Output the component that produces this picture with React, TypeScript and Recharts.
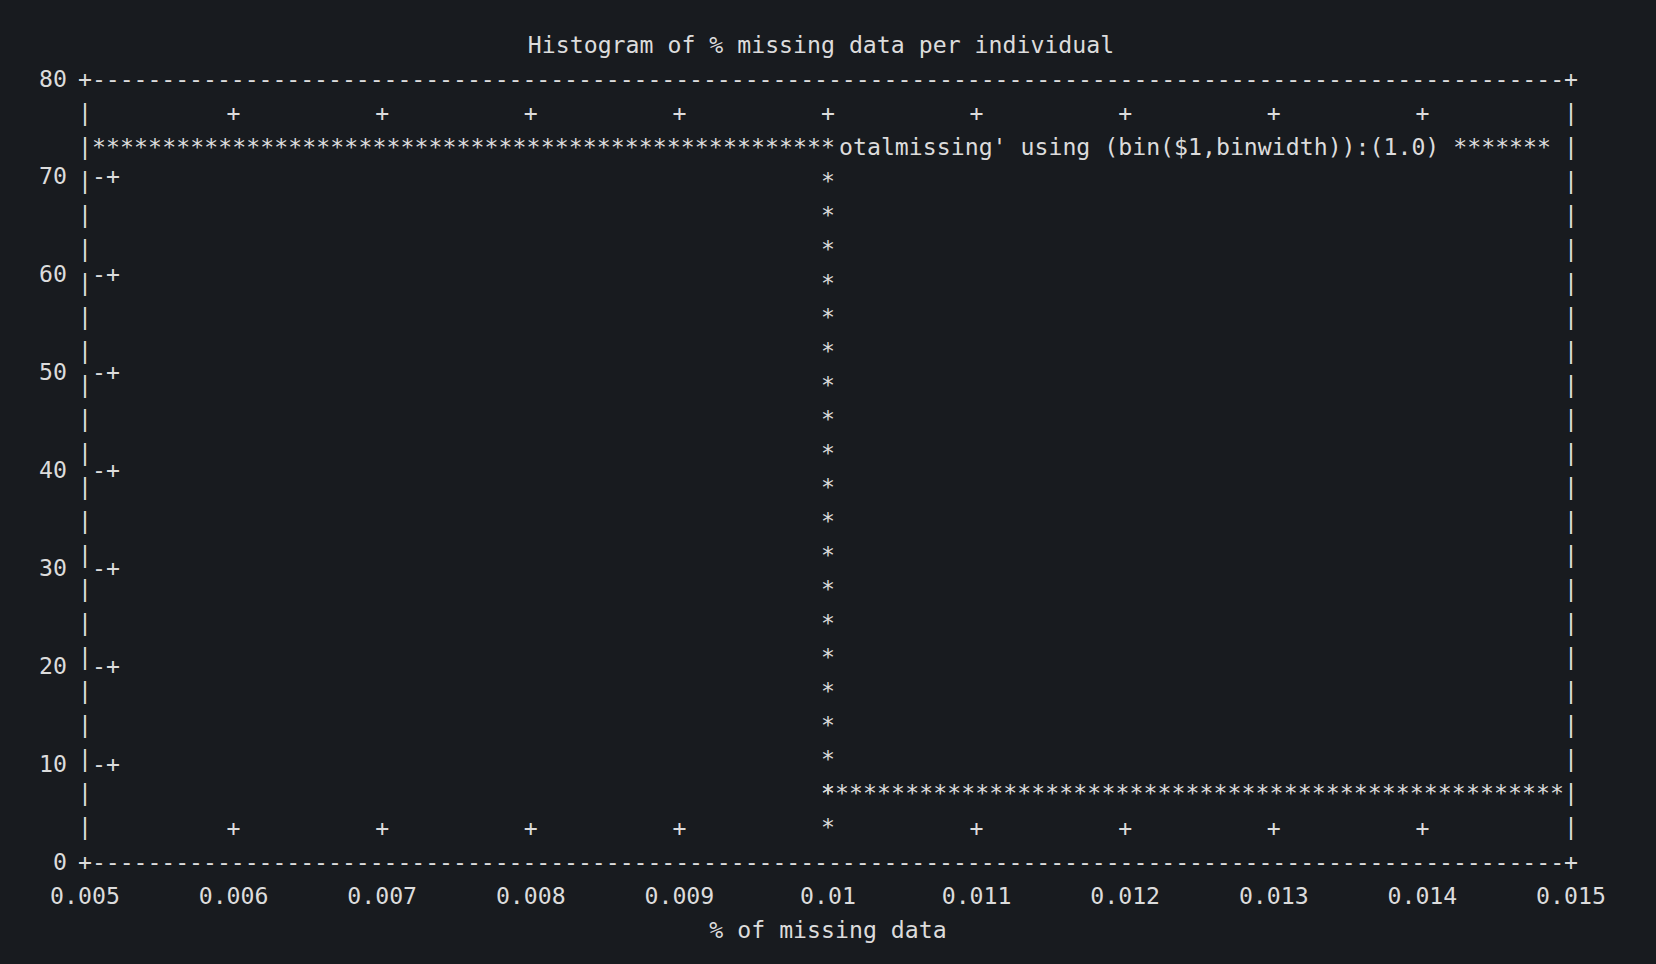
import React from 'react';
import {
  ComposedChart,
  Bar,
  XAxis,
  YAxis,
  ReferenceLine,
  Legend,
} from 'recharts';

const binLabels = ['0.005-0.01', '0.01-0.015'];
const binStarts = [0.005, 0.01];
const binCounts = [73, 7];
const xTicks = [0.005, 0.006, 0.007, 0.008, 0.009, 0.01, 0.011, 0.012, 0.013, 0.014, 0.015];
const xTickLabels = ['0.005', '0.006', '0.007', '0.008', '0.009', '0.01', '0.011', '0.012', '0.013', '0.014', '0.015'];
const yTicks = [0, 10, 20, 30, 40, 50, 60, 70, 80];

const title = 'Histogram of % missing data per individual';
const xLabel = '% of missing data';
const seriesName = "otalmissing' using (bin($1,binwidth)):(1.0)";

const data = binLabels.map((bin, i) => ({ bin, start: binStarts[i], count: binCounts[i] }));

// terminal-ish look
const BG = '#181b1f';
const FG = '#dcdcdc';
const FONT = '"DejaVu Sans Mono", monospace';
const FS = 23.2;
const CW = 13.95; // char width
const ROW = 34; // row height
const BASE = 7.5; // baseline below row centre
const PLOT_TOP = 79;
const PLOT_BOTTOM = 862;
const Y_MIN = yTicks[0];
const Y_MAX = yTicks[yTicks.length - 1];

const ch = (x: number, y: number, c: string, key: string | number, anchor = 'middle') => (
  <text key={key} x={x} y={y + BASE} textAnchor={anchor} fill={FG} fontFamily={FONT} fontSize={FS}>
    {c}
  </text>
);

const HistShape = (props: any) => {
  const { x, y, width, height, index } = props;
  const last = binCounts.length - 1;
  const n = Math.max(1, Math.round(width / CW));
  const step = width / n;
  const out: any[] = [];
  for (let k = index === 0 ? 1 : 0; k <= (index === last ? n - 1 : n); k++) {
    out.push(ch(x + k * step, y, '*', 't' + k));
  }
  if (index < last) {
    for (let yy = y + ROW; yy < y + height - ROW / 2; yy += ROW) {
      out.push(ch(x + width, yy, '*', 'r' + yy));
    }
  }
  return <g>{out}</g>;
};

const HBorder = (p: any) => {
  const a = Math.min(p.x1, p.x2);
  const b = Math.max(p.x1, p.x2);
  const n = Math.round((b - a) / CW);
  const step = (b - a) / n;
  const out: any[] = [];
  for (let k = 0; k <= n; k++) out.push(ch(a + k * step, p.y1, k === 0 || k === n ? '+' : '-', k));
  return <g>{out}</g>;
};

const VBorder = (p: any) => {
  const a = Math.min(p.y1, p.y2);
  const b = Math.max(p.y1, p.y2);
  const n = Math.round((b - a) / ROW);
  const step = (b - a) / n;
  const out: any[] = [];
  for (let k = 1; k < n; k++) out.push(ch(p.x1, a + k * step, '|', k));
  return <g>{out}</g>;
};

const isInnerY = (v: number) => v !== Y_MIN && v !== Y_MAX;
const isInnerX = (v: number) => v !== xTicks[0] && v !== xTicks[xTicks.length - 1];

const LeftTick = ({ x, y, payload }: any) => (
  <g>
    {ch(x - 18, y, String(payload.value), 'l', 'end')}
    {isInnerY(payload.value) && ch(x + CW, y, '-', 'd')}
    {isInnerY(payload.value) && ch(x + 2 * CW, y, '+', 'p')}
  </g>
);

const RightTick = ({ x, y, payload }: any) => (
  <g>
    {isInnerY(payload.value) && ch(x - CW, y, '-', 'd')}
    {isInnerY(payload.value) && ch(x - 2 * CW, y, '+', 'p')}
  </g>
);

// tick marks go one row inside the frame, labels one row below it;
// the bottom mark is hidden where a histogram edge runs down
const BottomTick = ({ x, payload, index }: any) => (
  <g>
    {ch(x, PLOT_BOTTOM + ROW, xTickLabels[index] ?? String(payload.value), 'l')}
    {isInnerX(payload.value) &&
      !binStarts.some((s) => Math.abs(s - payload.value) < 1e-9) &&
      ch(x, PLOT_BOTTOM - ROW, '+', 'p')}
  </g>
);

const TopTick = ({ x, payload }: any) => (
  <g>{isInnerX(payload.value) && ch(x, PLOT_TOP + ROW, '+', 'p')}</g>
);

const KeyContent = ({ payload }: any) => (
  <div
    style={{
      fontFamily: FONT,
      fontSize: FS,
      lineHeight: `${ROW}px`,
      color: FG,
      whiteSpace: 'pre',
    }}
  >
    {`${payload && payload[0] ? payload[0].value : seriesName} *******`}
  </div>
);

export default function App() {
  return (
    <div style={{ position: 'fixed', left: 0, top: 0, width: 1656, height: 964, background: BG }}>
      <ComposedChart
        width={1656}
        height={964}
        data={data}
        barCategoryGap={0}
        margin={{ top: 78, right: 84, bottom: 101, left: 84 }}
      >
        <XAxis xAxisId="cat" dataKey="bin" hide height={0} />
        <XAxis
          xAxisId="val"
          dataKey="start"
          type="number"
          domain={[0.005, 0.015]}
          ticks={xTicks}
          interval={0}
          allowDataOverflow
          height={1}
          tickSize={0}
          tickMargin={0}
          axisLine={false}
          tickLine={false}
          tick={<BottomTick />}
          label={() => ch(828, PLOT_BOTTOM + 2 * ROW, xLabel, 'xl')}
        />
        <XAxis
          xAxisId="top"
          dataKey="start"
          orientation="top"
          type="number"
          domain={[0.005, 0.015]}
          ticks={xTicks}
          interval={0}
          allowDataOverflow
          height={1}
          tickSize={0}
          tickMargin={0}
          axisLine={false}
          tickLine={false}
          tick={<TopTick />}
          label={() => ch(821, PLOT_TOP - ROW, title, 'tl')}
        />
        <YAxis
          yAxisId="left"
          domain={[Y_MIN, Y_MAX]}
          ticks={yTicks}
          interval={0}
          width={1}
          tickSize={0}
          tickMargin={0}
          axisLine={false}
          tickLine={false}
          tick={<LeftTick />}
        />
        <YAxis
          yAxisId="right"
          orientation="right"
          domain={[Y_MIN, Y_MAX]}
          ticks={yTicks}
          interval={0}
          width={1}
          tickSize={0}
          tickMargin={0}
          axisLine={false}
          tickLine={false}
          tick={<RightTick />}
        />
        <ReferenceLine xAxisId="val" yAxisId="left" y={Y_MAX} shape={HBorder} />
        <ReferenceLine xAxisId="val" yAxisId="left" y={Y_MIN} shape={HBorder} />
        <ReferenceLine xAxisId="val" yAxisId="left" x={0.005} shape={VBorder} />
        <ReferenceLine xAxisId="val" yAxisId="left" x={0.015} shape={VBorder} />
        <Legend
          layout="horizontal"
          verticalAlign="middle"
          align="center"
          content={<KeyContent />}
          wrapperStyle={{ left: 'auto', right: 105, top: 130, width: 'auto', bottom: 'auto' }}
        />
        <Bar
          xAxisId="cat"
          yAxisId="left"
          dataKey="count"
          name={seriesName}
          shape={HistShape}
          isAnimationActive={false}
        />
      </ComposedChart>
    </div>
  );
}
